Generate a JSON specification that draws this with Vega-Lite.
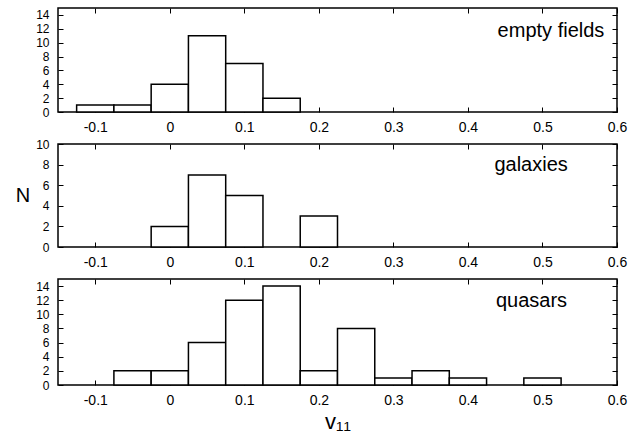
{
  "$schema": "https://vega.github.io/schema/vega-lite/v6.json",
  "padding": {"left": 14, "top": 6, "right": 0, "bottom": 0},
  "background": "white",
  "spacing": 32,
  "bounds": "flush",
  "datasets": {
    "empty": [
      {"lo": -0.125, "hi": -0.075, "n": 1},
      {"lo": -0.075, "hi": -0.025, "n": 1},
      {"lo": -0.025, "hi": 0.025, "n": 4},
      {"lo": 0.025, "hi": 0.075, "n": 11},
      {"lo": 0.075, "hi": 0.125, "n": 7},
      {"lo": 0.125, "hi": 0.175, "n": 2}
    ],
    "galaxies": [
      {"lo": -0.025, "hi": 0.025, "n": 2},
      {"lo": 0.025, "hi": 0.075, "n": 7},
      {"lo": 0.075, "hi": 0.125, "n": 5},
      {"lo": 0.175, "hi": 0.225, "n": 3}
    ],
    "quasars": [
      {"lo": -0.075, "hi": -0.025, "n": 2},
      {"lo": -0.025, "hi": 0.025, "n": 2},
      {"lo": 0.025, "hi": 0.075, "n": 6},
      {"lo": 0.075, "hi": 0.125, "n": 12},
      {"lo": 0.125, "hi": 0.175, "n": 14},
      {"lo": 0.175, "hi": 0.225, "n": 2},
      {"lo": 0.225, "hi": 0.275, "n": 8},
      {"lo": 0.275, "hi": 0.325, "n": 1},
      {"lo": 0.325, "hi": 0.375, "n": 2},
      {"lo": 0.375, "hi": 0.425, "n": 1},
      {"lo": 0.475, "hi": 0.525, "n": 1}
    ]
  },
  "vconcat": [
    {
      "width": 559, "height": 104,
      "layer": [
        {
          "data": {"name": "empty"},
          "mark": {"type": "rect", "fill": "white", "stroke": "black", "strokeWidth": 1.5},
          "encoding": {
            "x": {"field": "lo", "type": "quantitative", "scale": {"domain": [-0.15, 0.6], "nice": false, "zero": false},
                  "axis": {"orient": "bottom", "values": [-0.1, 0, 0.1, 0.2, 0.3, 0.4, 0.5, 0.6], "tickSize": -5, "labelPadding": 13, "labelFontSize": 14, "domain": false, "grid": false, "title": null, "labelFlush": false, "labelOverlap": false, "format": ".1~f", "labelExpr": "replace(datum.label, '\u2212', '-')"}},
            "x2": {"field": "hi"},
            "y": {"field": "n", "type": "quantitative", "scale": {"domain": [0, 15], "nice": false},
                  "axis": {"orient": "left", "values": [0, 2, 4, 6, 8, 10, 12, 14], "tickSize": -5, "labelPadding": 14, "labelFontSize": 12, "labelOverlap": false, "domain": false, "grid": false, "title": null}},
            "y2": {"datum": 0}
          }
        },
        {
          "data": {"values": [{}]},
          "mark": {"type": "text", "align": "right", "baseline": "middle", "fontSize": 20, "font": "Liberation Sans", "color": "black"},
          "encoding": {
            "x": {"datum": 0.583, "type": "quantitative", "scale": {"domain": [-0.15, 0.6], "nice": false, "zero": false},
                  "axis": {"orient": "top", "values": [-0.1, 0, 0.1, 0.2, 0.3, 0.4, 0.5, 0.6], "tickSize": -5, "labels": false, "domain": false, "grid": false, "title": null}},
            "y": {"datum": 11.7, "type": "quantitative", "scale": {"domain": [0, 15], "nice": false},
                  "axis": {"orient": "right", "values": [0, 2, 4, 6, 8, 10, 12, 14], "tickSize": -5, "labels": false, "domain": false, "grid": false, "title": null}},
            "text": {"value": "empty fields"}
          }
        }
      ],
      "resolve": {"axis": {"x": "independent", "y": "independent"}}
    },
    {
      "width": 559, "height": 103,
      "layer": [
        {
          "data": {"name": "galaxies"},
          "mark": {"type": "rect", "fill": "white", "stroke": "black", "strokeWidth": 1.5},
          "encoding": {
            "x": {"field": "lo", "type": "quantitative", "scale": {"domain": [-0.15, 0.6], "nice": false, "zero": false},
                  "axis": {"orient": "bottom", "values": [-0.1, 0, 0.1, 0.2, 0.3, 0.4, 0.5, 0.6], "tickSize": -5, "labelPadding": 13, "labelFontSize": 14, "domain": false, "grid": false, "title": null, "labelFlush": false, "labelOverlap": false, "format": ".1~f", "labelExpr": "replace(datum.label, '\u2212', '-')"}},
            "x2": {"field": "hi"},
            "y": {"field": "n", "type": "quantitative", "scale": {"domain": [0, 10], "nice": false},
                  "axis": {"orient": "left", "values": [0, 2, 4, 6, 8, 10], "tickSize": -5, "labelPadding": 14, "labelFontSize": 12, "labelOverlap": false, "domain": false, "grid": false, "title": "N", "titleAngle": 0, "titleAlign": "right", "titleBaseline": "middle", "titleFontSize": 20, "titlePadding": 6}},
            "y2": {"datum": 0}
          }
        },
        {
          "data": {"values": [{}]},
          "mark": {"type": "text", "align": "right", "baseline": "middle", "fontSize": 20, "font": "Liberation Sans", "color": "black"},
          "encoding": {
            "x": {"datum": 0.534, "type": "quantitative", "scale": {"domain": [-0.15, 0.6], "nice": false, "zero": false},
                  "axis": {"orient": "top", "values": [-0.1, 0, 0.1, 0.2, 0.3, 0.4, 0.5, 0.6], "tickSize": -5, "labels": false, "domain": false, "grid": false, "title": null}},
            "y": {"datum": 8.0, "type": "quantitative", "scale": {"domain": [0, 10], "nice": false},
                  "axis": {"orient": "right", "values": [0, 2, 4, 6, 8, 10], "tickSize": -5, "labels": false, "domain": false, "grid": false, "title": null}},
            "text": {"value": "galaxies"}
          }
        }
      ],
      "resolve": {"axis": {"x": "independent", "y": "independent"}}
    },
    {
      "width": 559, "height": 106,
      "layer": [
        {
          "data": {"name": "quasars"},
          "mark": {"type": "rect", "fill": "white", "stroke": "black", "strokeWidth": 1.5},
          "encoding": {
            "x": {"field": "lo", "type": "quantitative", "scale": {"domain": [-0.15, 0.6], "nice": false, "zero": false},
                  "axis": {"orient": "bottom", "values": [-0.1, 0, 0.1, 0.2, 0.3, 0.4, 0.5, 0.6], "tickSize": -5, "labelPadding": 13, "labelFontSize": 14, "domain": false, "grid": false, "title": "v\u2081\u2081", "titleFontSize": 22, "titlePadding": 4, "labelFlush": false, "labelOverlap": false, "format": ".1~f", "labelExpr": "replace(datum.label, '\u2212', '-')"}},
            "x2": {"field": "hi"},
            "y": {"field": "n", "type": "quantitative", "scale": {"domain": [0, 15], "nice": false},
                  "axis": {"orient": "left", "values": [0, 2, 4, 6, 8, 10, 12, 14], "tickSize": -5, "labelPadding": 14, "labelFontSize": 12, "labelOverlap": false, "domain": false, "grid": false, "title": null}},
            "y2": {"datum": 0}
          }
        },
        {
          "data": {"values": [{}]},
          "mark": {"type": "text", "align": "right", "baseline": "middle", "fontSize": 20, "font": "Liberation Sans", "color": "black"},
          "encoding": {
            "x": {"datum": 0.533, "type": "quantitative", "scale": {"domain": [-0.15, 0.6], "nice": false, "zero": false},
                  "axis": {"orient": "top", "values": [-0.1, 0, 0.1, 0.2, 0.3, 0.4, 0.5, 0.6], "tickSize": -5, "labels": false, "domain": false, "grid": false, "title": null}},
            "y": {"datum": 11.9, "type": "quantitative", "scale": {"domain": [0, 15], "nice": false},
                  "axis": {"orient": "right", "values": [0, 2, 4, 6, 8, 10, 12, 14], "tickSize": -5, "labels": false, "domain": false, "grid": false, "title": null}},
            "text": {"value": "quasars"}
          }
        }
      ],
      "resolve": {"axis": {"x": "independent", "y": "independent"}}
    }
  ],
  "config": {
    "view": {"stroke": "black", "strokeWidth": 1.5},
    "axis": {"labelFont": "Liberation Sans", "labelFontSize": 13, "labelColor": "black", "tickColor": "black", "tickWidth": 1, "titleFont": "Liberation Sans", "titleColor": "black", "titleFontWeight": "normal"}
  }
}
